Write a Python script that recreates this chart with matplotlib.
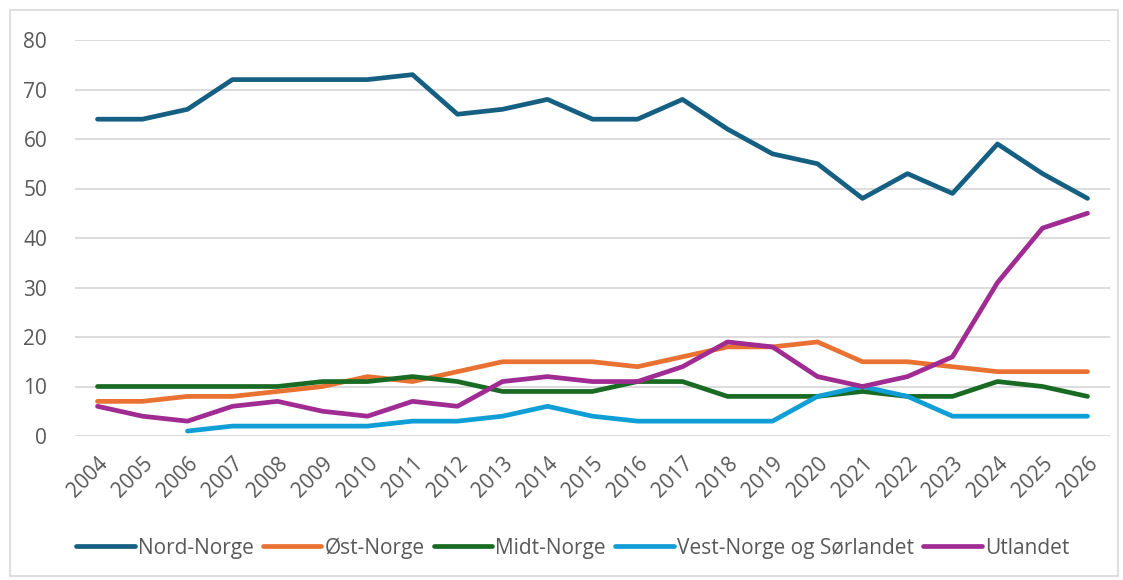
import numpy as np
import matplotlib
matplotlib.use('Agg')
import matplotlib.pyplot as plt
from matplotlib.patches import Rectangle

plt.rcParams['font.family'] = ['Open Sans', 'DejaVu Sans']

years = list(range(2004, 2027))
nord_norge = [64, 64, 66, 72, 72, 72, 72, 73, 65, 66, 68, 64, 64, 68, 62, 57, 55, 48, 53, 49, 59, 53, 48]
ost_norge = [7, 7, 8, 8, 9, 10, 12, 11, 13, 15, 15, 15, 14, 16, 18, 18, 19, 15, 15, 14, 13, 13, 13]
midt_norge = [10, 10, 10, 10, 10, 11, 11, 12, 11, 9, 9, 9, 11, 11, 8, 8, 8, 9, 8, 8, 11, 10, 8]
vest_norge = [np.nan, np.nan, 1, 2, 2, 2, 2, 3, 3, 4, 6, 4, 3, 3, 3, 3, 8, 10, 8, 4, 4, 4, 4]
utlandet = [6, 4, 3, 6, 7, 5, 4, 7, 6, 11, 12, 11, 11, 14, 19, 18, 12, 10, 12, 16, 31, 42, 45]

series = [
    ('Nord-Norge', nord_norge, '#156082'),
    ('Øst-Norge', ost_norge, '#E97132'),
    ('Midt-Norge', midt_norge, '#196B24'),
    ('Vest-Norge og Sørlandet', vest_norge, '#0F9ED5'),
    ('Utlandet', utlandet, '#A02B93'),
]

text_color = '#595959'

fig = plt.figure(figsize=(11.23, 5.8), dpi=100)
ax = fig.add_axes([75 / 1123, 1 - 436 / 580, 1035 / 1123, 396 / 580])

for name, vals, col in series:
    ax.plot(years, vals, color=col, lw=3.4, label=name,
            solid_capstyle='round', solid_joinstyle='round')

ax.set_xlim(2003.5, 2026.5)
ax.set_ylim(0, 80)
ax.set_yticks(range(0, 81, 10))
ax.set_xticks(years)
ax.set_xticklabels([str(y) for y in years], rotation=45, ha='right',
                   rotation_mode='anchor')
ax.tick_params(axis='both', length=0, labelsize=15, colors=text_color)
ax.tick_params(axis='y', pad=20)
ax.tick_params(axis='x', pad=12)
ax.grid(axis='y', color='#D9D9D9', lw=1.3)
ax.set_axisbelow(True)
for s in ax.spines.values():
    s.set_visible(False)

leg = fig.legend(loc='center', bbox_to_anchor=(0.51, 1 - 548 / 580), ncol=5,
                 frameon=False, fontsize=15, handlelength=2.8,
                 handletextpad=0.15, columnspacing=0.45)
for t in leg.get_texts():
    t.set_color(text_color)

fig.patches.append(Rectangle((10 / 1123, 4 / 580), 1108 / 1123, 566 / 580,
                             transform=fig.transFigure, fill=False,
                             edgecolor='#D9D9D9', lw=1.2))

fig.savefig('out.png', dpi=100)
